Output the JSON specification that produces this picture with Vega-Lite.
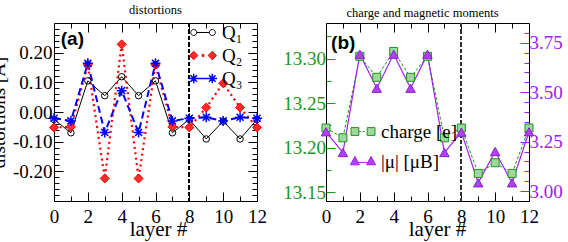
{
  "$schema": "https://vega.github.io/schema/vega-lite/v6.json",
  "background": "white",
  "padding": {"left": -12, "top": 3, "right": 2, "bottom": 2},
  "datasets": {
    "dist": [
      {"layer": 0, "series": "Q₁", "value": -0.025}, {"layer": 1, "series": "Q₁", "value": -0.07}, {"layer": 2, "series": "Q₁", "value": 0.105}, {"layer": 3, "series": "Q₁", "value": 0.055}, {"layer": 4, "series": "Q₁", "value": 0.119}, {"layer": 5, "series": "Q₁", "value": 0.055}, {"layer": 6, "series": "Q₁", "value": 0.105}, {"layer": 7, "series": "Q₁", "value": -0.07}, {"layer": 8, "series": "Q₁", "value": -0.025}, {"layer": 9, "series": "Q₁", "value": -0.091}, {"layer": 10, "series": "Q₁", "value": -0.031}, {"layer": 11, "series": "Q₁", "value": -0.091}, {"layer": 12, "series": "Q₁", "value": -0.025},
      {"layer": 0, "series": "Q₂", "value": -0.052}, {"layer": 1, "series": "Q₂", "value": -0.05}, {"layer": 2, "series": "Q₂", "value": 0.159}, {"layer": 3, "series": "Q₂", "value": -0.224}, {"layer": 4, "series": "Q₂", "value": 0.228}, {"layer": 5, "series": "Q₂", "value": -0.224}, {"layer": 6, "series": "Q₂", "value": 0.159}, {"layer": 7, "series": "Q₂", "value": -0.05}, {"layer": 8, "series": "Q₂", "value": -0.052}, {"layer": 9, "series": "Q₂", "value": 0.015}, {"layer": 10, "series": "Q₂", "value": 0.097}, {"layer": 11, "series": "Q₂", "value": 0.015}, {"layer": 12, "series": "Q₂", "value": -0.052},
      {"layer": 0, "series": "Q₃", "value": -0.021}, {"layer": 1, "series": "Q₃", "value": -0.03}, {"layer": 2, "series": "Q₃", "value": 0.164}, {"layer": 3, "series": "Q₃", "value": -0.069}, {"layer": 4, "series": "Q₃", "value": 0.072}, {"layer": 5, "series": "Q₃", "value": -0.069}, {"layer": 6, "series": "Q₃", "value": 0.164}, {"layer": 7, "series": "Q₃", "value": -0.03}, {"layer": 8, "series": "Q₃", "value": -0.021}, {"layer": 9, "series": "Q₃", "value": -0.018}, {"layer": 10, "series": "Q₃", "value": -0.03}, {"layer": 11, "series": "Q₃", "value": -0.018}, {"layer": 12, "series": "Q₃", "value": -0.021}
    ],
    "mom": [
      {"layer": 0, "series": "charge [e]", "value": 13.222}, {"layer": 1, "series": "charge [e]", "value": 13.211}, {"layer": 2, "series": "charge [e]", "value": 13.3026}, {"layer": 3, "series": "charge [e]", "value": 13.279}, {"layer": 4, "series": "charge [e]", "value": 13.308}, {"layer": 5, "series": "charge [e]", "value": 13.279}, {"layer": 6, "series": "charge [e]", "value": 13.3026}, {"layer": 7, "series": "charge [e]", "value": 13.211}, {"layer": 8, "series": "charge [e]", "value": 13.222}, {"layer": 9, "series": "charge [e]", "value": 13.171}, {"layer": 10, "series": "charge [e]", "value": 13.183}, {"layer": 11, "series": "charge [e]", "value": 13.171}, {"layer": 12, "series": "charge [e]", "value": 13.222},
      {"layer": 0, "series": "|μ| [μB]", "value": 3.3}, {"layer": 1, "series": "|μ| [μB]", "value": 3.195}, {"layer": 2, "series": "|μ| [μB]", "value": 3.692}, {"layer": 3, "series": "|μ| [μB]", "value": 3.52}, {"layer": 4, "series": "|μ| [μB]", "value": 3.692}, {"layer": 5, "series": "|μ| [μB]", "value": 3.52}, {"layer": 6, "series": "|μ| [μB]", "value": 3.692}, {"layer": 7, "series": "|μ| [μB]", "value": 3.195}, {"layer": 8, "series": "|μ| [μB]", "value": 3.298}, {"layer": 9, "series": "|μ| [μB]", "value": 3.042}, {"layer": 10, "series": "|μ| [μB]", "value": 3.2}, {"layer": 11, "series": "|μ| [μB]", "value": 3.042}, {"layer": 12, "series": "|μ| [μB]", "value": 3.3}
    ],
    "labA": [{"label": "(a)"}],
    "labB": [{"label": "(b)"}]
  },
  "spacing": 69,
  "bounds": "flush",
  "resolve": {"scale": {"color": "independent"}, "legend": {"color": "independent"}},
  "hconcat": [
    {
      "width": 203,
      "height": 178,
      "title": {"text": "distortions", "frame": "group", "offset": 3},
      "data": {"name": "dist"},
      "layer": [
        {
          "transform": [{"filter": {"field": "series", "equal": "Q₁"}}],
          "mark": {"type": "line", "strokeWidth": 1},
          "encoding": {
            "x": {"field": "layer", "type": "quantitative", "scale": {"domain": [0, 12], "nice": false},
              "axis": {"orient": "bottom", "values": [0,1,2,3,4,5,6,7,8,9,10,11,12],
                "tickSize": {"condition": {"test": "datum.value % 2 === 0", "value": -9}, "value": -5},
                "labelExpr": "datum.value % 2 === 0 ? datum.label : ''", "labelPadding": 15.5,
                "title": "layer #", "titlePadding": -12, "titleX": 104, "titleAlign": "center"}},
            "y": {"field": "value", "type": "quantitative", "scale": {"domain": [-0.3, 0.3], "nice": false, "zero": false},
              "axis": {"orient": "left", "values": [-0.28,-0.26,-0.24,-0.22,-0.2,-0.18,-0.16,-0.14,-0.12,-0.1,-0.08,-0.06,-0.04,-0.02,0,0.02,0.04,0.06,0.08,0.1,0.12,0.14,0.16,0.18,0.2,0.22,0.24,0.26,0.28],
                "format": ".2f",
                "tickSize": {"condition": {"test": "abs(round(datum.value*10) - datum.value*10) < 0.001", "value": -9}, "value": -5},
                "labelExpr": "abs(round(datum.value*10) - datum.value*10) < 0.001 ? replace(datum.label, '−', '-') : ''",
                "labelPadding": 11, "title": "distortions [Å]", "titleFontSize": 19, "titlePadding": 4}},
            "color": {"field": "series", "type": "nominal",
              "scale": {"domain": ["Q₁", "Q₂", "Q₃"], "range": ["#000000", "#ff0000", "#0000ff"]},
              "legend": {"orient": "none", "legendX": 139.5, "legendY": 0, "title": null, "padding": 0,
                "symbolSize": 36, "labelOffset": 9.5, "rowPadding": 3, "labelFontSize": 19, "labelFont": "Liberation Serif",
                "encode": {"symbols": {"update": {
                  "shape": {"signal": "datum.index === 0 ? 'M-4.1,0A1,1,0,1,1,-2.1,0A1,1,0,1,1,-4.1,0M-2.1,0L2.1,0M2.1,0A1,1,0,1,1,4.1,0A1,1,0,1,1,2.1,0' : datum.index === 1 ? 'M-3.1,-1.4L-1.7,0L-3.1,1.4L-4.5,0ZM3.1,-1.4L4.5,0L3.1,1.4L1.7,0ZM-0.3,-0.3L0.3,-0.3L0.3,0.3L-0.3,0.3Z' : 'M-4.7,0L4.7,0M-3.1,-1.6L-3.1,1.6M-4.2,-1.1L-2,1.1M-4.2,1.1L-2,-1.1M3.1,-1.6L3.1,1.6M2,-1.1L4.2,1.1M2,1.1L4.2,-1.1'"},
                  "fill": {"signal": "datum.index === 1 ? '#ff2a2a' : 'transparent'"},
                  "stroke": {"signal": "datum.index === 0 ? '#000000' : datum.index === 1 ? '#ff0000' : '#0000ff'"},
                  "strokeDash": {"value": []},
                  "strokeWidth": {"signal": "datum.index === 2 ? 1.5 : 1"},
                  "opacity": {"value": 1}
                }}}}
            }
          }
        },
        {
          "transform": [{"filter": {"field": "series", "equal": "Q₂"}}],
          "mark": {"type": "line", "strokeWidth": 2.2, "strokeDash": [2, 3.5]},
          "encoding": {
            "x": {"field": "layer", "type": "quantitative", "axis": null},
            "y": {"field": "value", "type": "quantitative", "axis": null},
            "color": {"field": "series", "type": "nominal"}
          }
        },
        {
          "transform": [{"filter": {"field": "series", "equal": "Q₃"}}],
          "mark": {"type": "line", "strokeWidth": 2, "strokeDash": [7, 4]},
          "encoding": {
            "x": {"field": "layer", "type": "quantitative", "axis": null},
            "y": {"field": "value", "type": "quantitative", "axis": null},
            "color": {"field": "series", "type": "nominal"}
          }
        },
        {
          "mark": {"type": "rule", "color": "#000000", "strokeWidth": 1.3, "strokeDash": [4, 2.5]},
          "encoding": {"x": {"datum": 8, "type": "quantitative", "axis": null}}
        },
        {
          "transform": [{"filter": {"field": "series", "equal": "Q₁"}}],
          "mark": {"type": "point", "shape": "circle", "size": 42, "filled": false, "stroke": "#000000", "strokeWidth": 1, "opacity": 1},
          "encoding": {
            "x": {"field": "layer", "type": "quantitative",
              "axis": {"orient": "top", "values": [0,1,2,3,4,5,6,7,8,9,10,11,12], "labels": false, "title": null,
                "tickSize": {"condition": {"test": "datum.value % 2 === 0", "value": -9}, "value": -5}}},
            "y": {"field": "value", "type": "quantitative",
              "axis": {"orient": "right", "values": [-0.28,-0.26,-0.24,-0.22,-0.2,-0.18,-0.16,-0.14,-0.12,-0.1,-0.08,-0.06,-0.04,-0.02,0,0.02,0.04,0.06,0.08,0.1,0.12,0.14,0.16,0.18,0.2,0.22,0.24,0.26,0.28],
                "labels": false, "title": null,
                "tickSize": {"condition": {"test": "abs(round(datum.value*10) - datum.value*10) < 0.001", "value": -9}, "value": -5}}}
          }
        },
        {
          "transform": [{"filter": {"field": "series", "equal": "Q₂"}}],
          "mark": {"type": "point", "shape": "diamond", "size": 81, "filled": true, "fill": "#ff2a2a", "stroke": "#ff0000", "strokeWidth": 1, "opacity": 1},
          "encoding": {
            "x": {"field": "layer", "type": "quantitative", "axis": null},
            "y": {"field": "value", "type": "quantitative", "axis": null}
          }
        },
        {
          "transform": [{"filter": {"field": "series", "equal": "Q₃"}}],
          "mark": {"type": "point", "shape": "M-1,0L1,0M0,-1L0,1M-0.7,-0.7L0.7,0.7M-0.7,0.7L0.7,-0.7", "size": 100, "filled": false, "stroke": "#0000ff", "strokeWidth": 1.5, "opacity": 1},
          "encoding": {
            "x": {"field": "layer", "type": "quantitative", "axis": null},
            "y": {"field": "value", "type": "quantitative", "axis": null}
          }
        },
        {
          "data": {"name": "labA"},
          "mark": {"type": "text", "font": "Liberation Sans", "fontWeight": "bold", "fontSize": 19, "align": "left", "baseline": "middle", "color": "#000000"},
          "encoding": {
            "x": {"datum": 0.4, "type": "quantitative", "axis": null},
            "y": {"datum": 0.246, "type": "quantitative", "axis": null},
            "text": {"field": "label", "type": "nominal"}
          }
        }
      ]
    },
    {
      "width": 203,
      "height": 178,
      "title": {"text": "charge and magnetic moments", "frame": "group", "offset": 3, "dx": -5},
      "data": {"name": "mom"},
      "resolve": {"scale": {"y": "independent"}},
      "layer": [
        {
          "transform": [{"filter": {"field": "series", "equal": "charge [e]"}}],
          "mark": {"type": "line", "strokeWidth": 1, "strokeDash": [3, 2]},
          "encoding": {
            "x": {"field": "layer", "type": "quantitative", "scale": {"domain": [0, 12], "nice": false},
              "axis": {"orient": "bottom", "values": [0,1,2,3,4,5,6,7,8,9,10,11,12],
                "tickSize": {"condition": {"test": "datum.value % 2 === 0", "value": -9}, "value": -5},
                "labelExpr": "datum.value % 2 === 0 ? datum.label : ''", "labelPadding": 15.5,
                "title": "layer #", "titlePadding": -12, "titleX": 111, "titleAlign": "center"}},
            "y": {"field": "value", "type": "quantitative", "scale": {"domain": [13.14, 13.34], "nice": false, "zero": false},
              "axis": {"orient": "left", "values": [13.15,13.175,13.2,13.225,13.25,13.275,13.3,13.325], "format": ".2f",
                "tickSize": {"condition": {"test": "abs(round(datum.value*20) - datum.value*20) < 0.001", "value": -9}, "value": -5},
                "labelExpr": "abs(round(datum.value*20) - datum.value*20) < 0.001 ? datum.label : ''",
                "labelPadding": 9.5, "labelColor": "#1a961a", "tickColor": "#1a961a", "title": null}},
            "color": {"field": "series", "type": "nominal",
              "scale": {"domain": ["charge [e]", "|μ| [μB]"], "range": ["#1a961a", "#a020f0"]},
              "legend": {"orient": "none", "legendX": 27.5, "legendY": 99, "title": null, "padding": 0,
                "symbolSize": 36, "labelOffset": 8.5, "rowPadding": 10, "labelFontSize": 19, "labelFont": "Liberation Serif",
                "encode": {"symbols": {"update": {
                  "shape": {"signal": "datum.index === 0 ? 'M-4,-1.3L-1.4,-1.3L-1.4,1.3L-4,1.3ZM1.4,-1.3L4,-1.3L4,1.3L1.4,1.3ZM-1.4,0L-0.7,0M-0.2,0L0.5,0' : 'M-2.7,-1.7L-1.2,1.1L-4.2,1.1ZM2.7,-1.7L4.2,1.1L1.2,1.1ZM-1.7,0.3L1.7,0.3'"},
                  "fill": {"signal": "datum.index === 0 ? '#9fd89f' : '#b040f0'"},
                  "stroke": {"signal": "datum.index === 0 ? '#1a961a' : '#8a20d0'"},
                  "strokeDash": {"value": []},
                  "strokeWidth": {"value": 1},
                  "opacity": {"value": 1}
                }}}}
            }
          }
        },
        {
          "transform": [{"filter": {"field": "series", "equal": "|μ| [μB]"}}],
          "mark": {"type": "line", "strokeWidth": 1.2},
          "encoding": {
            "x": {"field": "layer", "type": "quantitative", "axis": null},
            "y": {"field": "value", "type": "quantitative", "scale": {"domain": [2.95, 3.85], "nice": false, "zero": false},
              "axis": {"orient": "right", "values": [3,3.05,3.1,3.15,3.2,3.25,3.3,3.35,3.4,3.45,3.5,3.55,3.6,3.65,3.7,3.75,3.8], "format": ".2f",
                "tickSize": {"condition": {"test": "abs(round(datum.value*4) - datum.value*4) < 0.001", "value": -9}, "value": -5},
                "labelExpr": "abs(round(datum.value*4) - datum.value*4) < 0.001 ? datum.label : ''",
                "labelPadding": 9, "labelColor": "#a020f0", "tickColor": "#a020f0", "title": null}},
            "color": {"field": "series", "type": "nominal"}
          }
        },
        {
          "mark": {"type": "rule", "color": "#333333", "strokeWidth": 1.3, "strokeDash": [4, 2.5]},
          "encoding": {"x": {"datum": 8, "type": "quantitative", "axis": null}}
        },
        {
          "transform": [{"filter": {"field": "series", "equal": "charge [e]"}}],
          "mark": {"type": "square", "size": 64, "filled": true, "fill": "#9fd89f", "stroke": "#1a961a", "strokeWidth": 1, "opacity": 1},
          "encoding": {
            "x": {"field": "layer", "type": "quantitative",
              "axis": {"orient": "top", "values": [0,1,2,3,4,5,6,7,8,9,10,11,12], "labels": false, "title": null,
                "tickSize": {"condition": {"test": "datum.value % 2 === 0", "value": -9}, "value": -5}}},
            "y": {"field": "value", "type": "quantitative", "scale": {"domain": [13.14, 13.34], "nice": false, "zero": false}, "axis": null}
          }
        },
        {
          "transform": [{"filter": {"field": "series", "equal": "|μ| [μB]"}}],
          "mark": {"type": "point", "shape": "triangle-up", "size": 90, "filled": true, "fill": "#b040f0", "stroke": "#8a20d0", "strokeWidth": 1, "opacity": 1},
          "encoding": {
            "x": {"field": "layer", "type": "quantitative", "axis": null},
            "y": {"field": "value", "type": "quantitative", "scale": {"domain": [2.95, 3.85], "nice": false, "zero": false}, "axis": null}
          }
        },
        {
          "data": {"name": "labB"},
          "mark": {"type": "text", "font": "Liberation Sans", "fontWeight": "bold", "fontSize": 19, "align": "left", "baseline": "middle", "color": "#000000"},
          "encoding": {
            "x": {"datum": 0.3, "type": "quantitative", "axis": null},
            "y": {"datum": 13.318, "type": "quantitative", "scale": {"domain": [13.14, 13.34], "nice": false, "zero": false}, "axis": null},
            "text": {"field": "label", "type": "nominal"}
          }
        }
      ]
    }
  ],
  "config": {
    "font": "Liberation Serif",
    "view": {"stroke": "#000000", "strokeWidth": 1},
    "axis": {"grid": false, "domain": false, "labelFont": "Liberation Serif", "labelFontSize": 19, "labelColor": "#000000",
      "titleFont": "Liberation Serif", "titleFontSize": 21, "titleFontWeight": "normal", "titleColor": "#000000",
      "tickColor": "#000000", "tickWidth": 1, "labelFlush": false, "labelOverlap": false},
    "legend": {"labelColor": "#000000"},
    "title": {"font": "Liberation Serif", "fontSize": 12.5, "fontWeight": "normal", "color": "#000000"}
  }
}
